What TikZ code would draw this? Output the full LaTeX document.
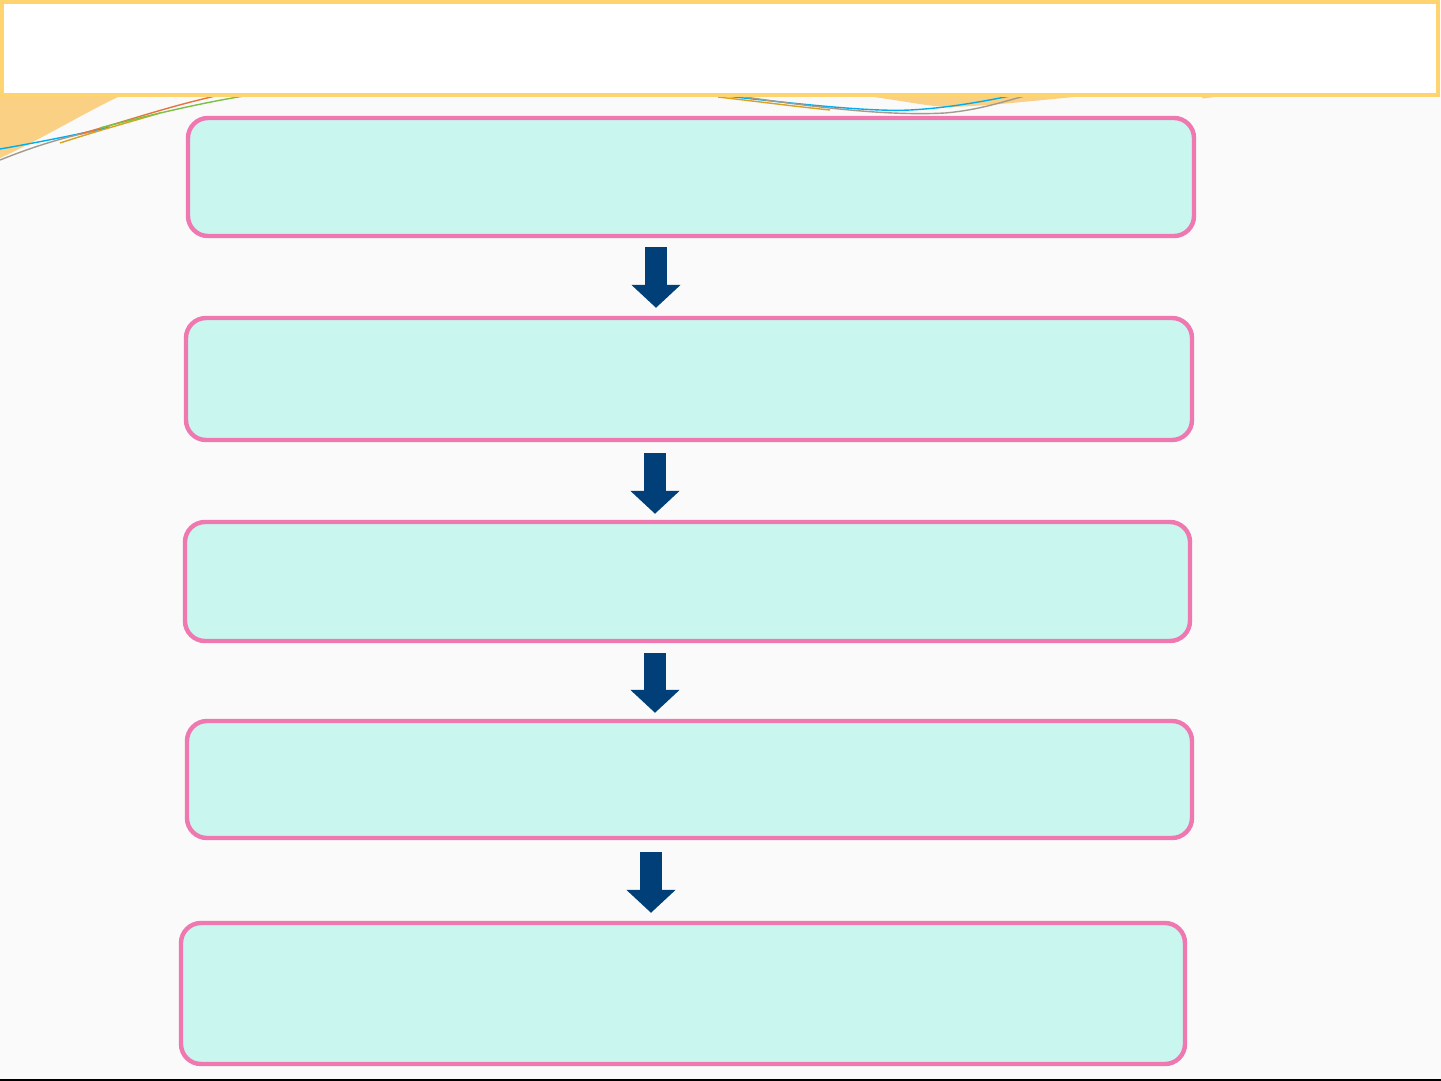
\documentclass[tikz,border=0pt]{standalone}
\usetikzlibrary{arrows.meta}
\definecolor{pinkline}{HTML}{EF78B0}
\definecolor{boxfill}{HTML}{CAF6F0}
\definecolor{arrblue}{HTML}{003F78}
\definecolor{headyellow}{HTML}{FDD46F}
\definecolor{decoorange}{HTML}{FAD184}
\definecolor{decoblue}{HTML}{00AEEF}
\definecolor{decored}{HTML}{E8743B}
\definecolor{decogreen}{HTML}{7AC143}
\definecolor{decogray}{HTML}{A39A8C}
\definecolor{decogold}{HTML}{D9A21E}
\definecolor{bgwhite}{HTML}{FAFAFA}
\begin{document}
\begin{tikzpicture}[x=0.5pt,y=-0.5pt,
  stepbox/.style={draw=pinkline, fill=boxfill, line width=2.2pt, rounded corners=10pt, inner sep=0pt},
  flowarrow/.style={draw=arrblue, line width=11pt, -{Triangle[width=24pt,length=11.5pt]}},
  deco/.style={line width=0.7pt}]
\useasboundingbox (0,0) rectangle (1441,1081);
\fill[bgwhite] (0,0) rectangle (1441,1081);
% decorations under header
\fill[decoorange] (0,95) -- (122,95) .. controls (80,115) and (40,140) .. (0,158) -- cycle;
\fill[decoorange] (858,95) .. controls (900,100) and (930,107) .. (950,107) .. controls (990,106) and (1040,100) .. (1095,95) -- cycle;
\fill[decoorange] (1200,95) -- (1230,95) -- (1203,98.5) -- cycle;
\draw[deco, decoblue] (0,149) .. controls (40,142) and (80,134) .. (110,127);
\draw[deco, decogray] (0,160) .. controls (30,148) and (60,138) .. (95,131);
\draw[deco, decogold] (60,143) .. controls (100,130) and (130,122) .. (160,113);
\draw[deco, decored] (80,134) .. controls (130,120) and (170,106) .. (220,95);
\draw[deco, decogreen] (100,128) .. controls (150,115) and (200,103) .. (250,95);
\draw[deco, decogold] (718,97) .. controls (770,103) and (800,107) .. (830,110);
\draw[deco, decoblue] (725,96) .. controls (800,104) and (870,112) .. (910,110) .. controls (950,108) and (990,100) .. (1010,96);
\draw[deco, decogray] (745,97) .. controls (820,108) and (890,116) .. (945,113) .. controls (980,110) and (1005,101) .. (1025,96);
% header
\node[draw=headyellow, fill=white, line width=2pt, inner sep=0pt, minimum width=718pt, minimum height=46.5pt] (header) at (720,48.5) {};
% boxes
\node[stepbox, minimum width=503pt, minimum height=59pt] (b1) at (691,177) {};
\node[stepbox, minimum width=503pt, minimum height=61pt] (b2) at (689,379) {};
\node[stepbox, minimum width=502.5pt, minimum height=59.5pt] (b3) at (687.5,581.5) {};
\node[stepbox, minimum width=502.5pt, minimum height=58.5pt] (b4) at (689.5,779.5) {};
\node[stepbox, minimum width=502pt, minimum height=70.5pt] (b5) at (683,993.5) {};
% arrow columns
\coordinate (c1) at (656,0);
\coordinate (c2) at (655,0);
\coordinate (c3) at (655,0);
\coordinate (c4) at (651,0);
\draw[flowarrow, shorten <=4.5pt, shorten >=4pt] (b1.south -| c1) -- (b2.north -| c1);
\draw[flowarrow, shorten <=5.5pt, shorten >=3pt] (b2.south -| c2) -- (b3.north -| c2);
\draw[flowarrow, shorten <=5pt, shorten >=3pt] (b3.south -| c3) -- (b4.north -| c3);
\draw[flowarrow, shorten <=6pt, shorten >=4pt] (b4.south -| c4) -- (b5.north -| c4);
% bottom line
\draw[black, line width=1pt] (0,1080) -- (1441,1080);
\end{tikzpicture}
\end{document}
